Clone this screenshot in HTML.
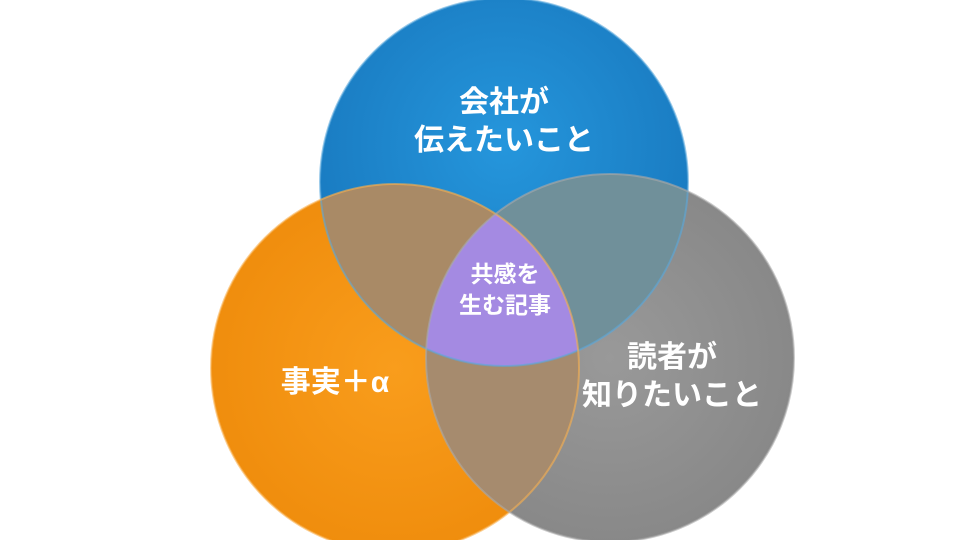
<!DOCTYPE html>
<html><head><meta charset="utf-8"><style>
body{margin:0;background:#fff;}
svg{display:block;font-family:"Liberation Sans","Noto Sans CJK JP",sans-serif;}
</style></head><body>
<svg width="960" height="540" viewBox="0 0 960 540">
<defs>
<radialGradient id="gb" cx="50%" cy="40%" r="60%"><stop offset="0" stop-color="#2596dc"/><stop offset="1" stop-color="#1878be"/></radialGradient>
<radialGradient id="go" cx="50%" cy="50%" r="60%"><stop offset="0" stop-color="#f99d1c"/><stop offset="1" stop-color="#ee8a0a"/></radialGradient>
<radialGradient id="gg" cx="50%" cy="50%" r="60%"><stop offset="0" stop-color="#999999"/><stop offset="1" stop-color="#858585"/></radialGradient>
<clipPath id="cb"><circle cx="504" cy="182" r="184"/></clipPath>
<clipPath id="co"><circle cx="395" cy="368" r="184"/></clipPath>
<clipPath id="cg"><circle cx="610" cy="358" r="184"/></clipPath>
</defs>
<circle cx="504" cy="182" r="184" fill="url(#gb)"/>
<circle cx="395" cy="368" r="184" fill="url(#go)"/>
<circle cx="610" cy="358" r="184" fill="url(#gg)"/>
<g clip-path="url(#cb)"><circle cx="395" cy="368" r="184" fill="#a98a66"/></g>
<g clip-path="url(#cb)"><circle cx="610" cy="358" r="184" fill="#70909a"/></g>
<g clip-path="url(#co)"><circle cx="610" cy="358" r="184" fill="#a68b6e"/></g>
<g clip-path="url(#cb)"><g clip-path="url(#co)"><circle cx="610" cy="358" r="184" fill="#a48ae2"/></g></g>
<circle cx="504" cy="182" r="184" fill="none" stroke="#5aa8dc" stroke-width="2" opacity="0.6"/>
<circle cx="395" cy="368" r="184" fill="none" stroke="#f8b050" stroke-width="2" opacity="0.6"/>
<circle cx="610" cy="358" r="184" fill="none" stroke="#aaaaaa" stroke-width="2" opacity="0.6"/>
<g fill="#fff" text-anchor="middle" font-weight="bold">
<text x="504" y="112" font-size="30">会社が</text>
<text x="504" y="150" font-size="30">伝えたいこと</text>
<text x="335" y="392" font-size="30">事実＋α</text>
<text x="672" y="367" font-size="30">読者が</text>
<text x="672" y="405" font-size="30">知りたいこと</text>
<text x="505" y="282" font-size="23">共感を</text>
<text x="505" y="313" font-size="23">生む記事</text>
</g>
</svg>
</body></html>
